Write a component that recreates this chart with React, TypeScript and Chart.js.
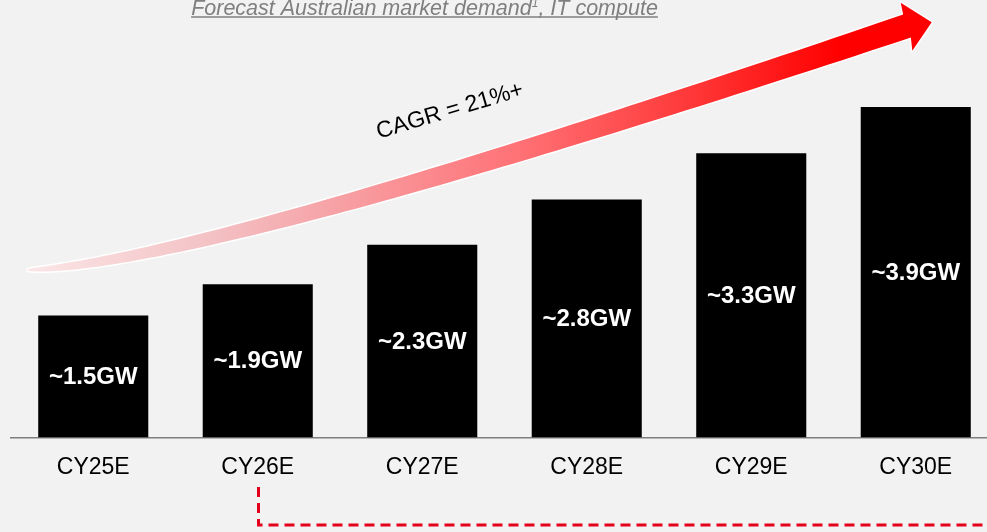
import React, { useEffect, useRef } from "react";
import { Chart, registerables } from "chart.js";

Chart.register(...registerables);

const categories = ["CY25E", "CY26E", "CY27E", "CY28E", "CY29E", "CY30E"];
const demandGW = [1.45, 1.82, 2.29, 2.83, 3.38, 3.93];
const valueLabels = ["~1.5GW", "~1.9GW", "~2.3GW", "~2.8GW", "~3.3GW", "~3.9GW"];
const yMax = 4.0;
const titleMain = "Forecast Australian market demand";
const titleSup = "1";
const titleRest = ", IT compute";
const cagrText = "CAGR = 21%+";

const FONT = "'Liberation Sans', Arial, Helvetica, sans-serif";

const decorPlugin = {
  id: "decor",
  beforeDraw(chart: any) {
    const ctx = chart.ctx;
    ctx.save();
    ctx.fillStyle = "#f2f2f2";
    ctx.fillRect(0, 0, chart.width, chart.height);
    ctx.restore();
  },
  beforeDatasetsDraw(chart: any) {
    const ctx = chart.ctx;
    // Title
    ctx.save();
    ctx.font = `italic 21.5px ${FONT}`;
    const wMain = ctx.measureText(titleMain).width;
    const wRest = ctx.measureText(titleRest).width;
    ctx.font = `italic 12px ${FONT}`;
    const wSup = ctx.measureText(titleSup).width;
    const total = wMain + wSup + wRest;
    const sx = 424.5 - total / 2;
    const by = 14.5;
    ctx.fillStyle = "#7f7f7f";
    ctx.textBaseline = "alphabetic";
    ctx.textAlign = "left";
    ctx.font = `italic 21.5px ${FONT}`;
    ctx.fillText(titleMain, sx, by);
    ctx.font = `italic 12px ${FONT}`;
    ctx.fillText(titleSup, sx + wMain, by - 8);
    ctx.font = `italic 21.5px ${FONT}`;
    ctx.fillText(titleRest, sx + wMain + wSup, by);
    ctx.strokeStyle = "#7f7f7f";
    ctx.lineWidth = 1.5;
    ctx.beginPath();
    ctx.moveTo(sx, by + 2.5);
    ctx.lineTo(sx + total, by + 2.5);
    ctx.stroke();
    ctx.restore();

    // Arrow
    const P0 = [28, 270], P1 = [200, 264], P2 = [907, 26];
    const N = 100;
    const up: number[][] = [];
    const lo: number[][] = [];
    for (let i = 0; i <= N; i++) {
      const t = i / N;
      const x = (1 - t) * (1 - t) * P0[0] + 2 * t * (1 - t) * P1[0] + t * t * P2[0];
      const y = (1 - t) * (1 - t) * P0[1] + 2 * t * (1 - t) * P1[1] + t * t * P2[1];
      const dx = 2 * (1 - t) * (P1[0] - P0[0]) + 2 * t * (P2[0] - P1[0]);
      const dy = 2 * (1 - t) * (P1[1] - P0[1]) + 2 * t * (P2[1] - P1[1]);
      const len = Math.hypot(dx, dy);
      const nx = -dy / len, ny = dx / len;
      const hw = 11.3 * Math.pow(t, 0.6) + 0.8;
      up.push([x - nx * hw, y - ny * hw]);
      lo.push([x + nx * hw, y + ny * hw]);
    }
    ctx.save();
    ctx.beginPath();
    ctx.moveTo(up[0][0], up[0][1]);
    for (const p of up) ctx.lineTo(p[0], p[1]);
    ctx.lineTo(900.7, 2.7);
    ctx.lineTo(931.7, 22.3);
    ctx.lineTo(912.3, 50.7);
    for (let i = lo.length - 1; i >= 0; i--) ctx.lineTo(lo[i][0], lo[i][1]);
    ctx.closePath();
    ctx.strokeStyle = "#ffffff";
    ctx.lineWidth = 3;
    ctx.lineJoin = "round";
    ctx.stroke();
    const g = ctx.createLinearGradient(28, 0, 930, 0);
    g.addColorStop(0, "#fbe6e7");
    g.addColorStop(0.2, "#f3c2c5");
    g.addColorStop(0.3, "#f5abaf");
    g.addColorStop(0.55, "#ff7074");
    g.addColorStop(0.75, "#ff3333");
    g.addColorStop(0.9, "#ff0000");
    g.addColorStop(1, "#ff0000");
    ctx.fillStyle = g;
    ctx.fill();
    ctx.restore();

    // CAGR label
    ctx.save();
    ctx.translate(450, 111);
    ctx.rotate((-16.5 * Math.PI) / 180);
    ctx.font = `23px ${FONT}`;
    ctx.fillStyle = "#000000";
    ctx.textAlign = "center";
    ctx.textBaseline = "middle";
    ctx.fillText(cagrText, 0, 0);
    ctx.restore();
  },
  afterDatasetsDraw(chart: any) {
    const ctx = chart.ctx;
    const meta = chart.getDatasetMeta(0);
    ctx.save();
    ctx.font = `bold 24px ${FONT}`;
    ctx.fillStyle = "#ffffff";
    ctx.textAlign = "center";
    ctx.textBaseline = "middle";
    meta.data.forEach((bar: any, i: number) => {
      const cy = (bar.y + bar.base) / 2;
      ctx.fillText(valueLabels[i], bar.x, cy + 1);
    });
    ctx.restore();
  },
  afterDraw(chart: any) {
    const ctx = chart.ctx;
    const xs = chart.scales.x;
    const x0 = Math.round(xs.getPixelForValue(1)) + 0.5;
    ctx.save();
    ctx.strokeStyle = "#e3001b";
    ctx.lineWidth = 3;
    ctx.setLineDash([10, 6]);
    ctx.beginPath();
    ctx.moveTo(x0, 487);
    ctx.lineTo(x0, 525);
    ctx.lineTo(chart.width, 525);
    ctx.stroke();
    ctx.restore();
  },
};

export default function App() {
  const ref = useRef<HTMLCanvasElement>(null);
  useEffect(() => {
    document.body.style.margin = "0";
    document.body.style.background = "#f2f2f2";
    const canvas = ref.current!;
    const chart = new Chart(canvas, {
      type: "bar",
      data: {
        labels: categories,
        datasets: [
          {
            data: demandGW,
            backgroundColor: "#000000",
            borderWidth: 0,
            categoryPercentage: 1,
            barPercentage: 0.669,
          },
        ],
      },
      options: {
        animation: false,
        responsive: false,
        devicePixelRatio: 1,
        layout: { padding: { left: 11, right: 2, top: 101, bottom: 35 } },
        plugins: { legend: { display: false }, tooltip: { enabled: false }, title: { display: false } },
        scales: {
          x: {
            grid: { display: false, drawTicks: false },
            border: { display: true, color: "#7f7f7f", width: 1.5 },
            ticks: { color: "#000000", font: { family: FONT, size: 23 }, padding: 16 },
          },
          y: { display: false, min: 0, max: yMax },
        },
      },
      plugins: [decorPlugin],
    });
    return () => chart.destroy();
  }, []);
  return (
    <div style={{ position: "relative", width: 987, height: 532, overflow: "hidden", background: "#f2f2f2" }}>
      <canvas ref={ref} width={1000} height={532} style={{ display: "block" }} />
    </div>
  );
}
